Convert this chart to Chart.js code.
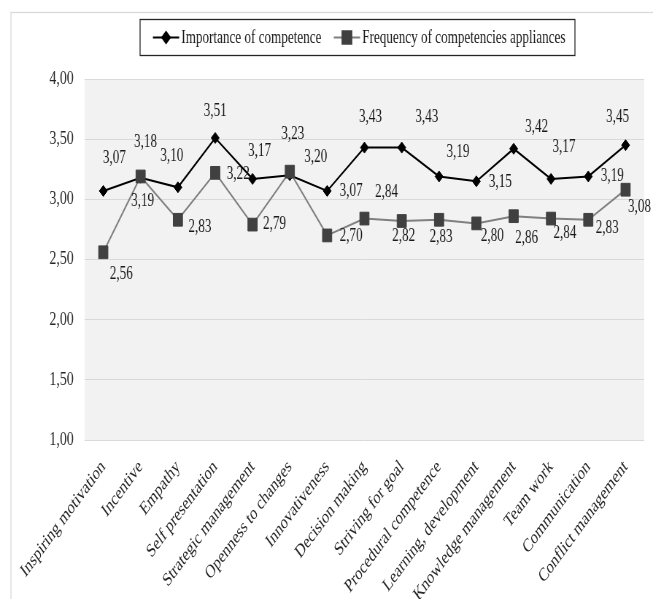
<!DOCTYPE html>
<html>
<head>
<meta charset="utf-8">
<script src="https://cdn.jsdelivr.net/npm/chart.js@4.4.1/dist/chart.umd.min.js"></script>
<style>
  html, body { margin: 0; padding: 0; background: #fff; }
  #marco { width: 653px; height: 599px; overflow: hidden; }
  /* la figura original está comprimida en horizontal */
  #grafico { display: block; transform: scaleX(0.7296); transform-origin: 0 0; }
</style>
</head>
<body>
<div id="marco"><canvas id="grafico" width="895" height="599"></canvas></div>
<script>
// Datos del gráfico
const categorias = [
  'Inspiring motivation', 'Incentive', 'Empathy', 'Self presentation',
  'Strategic management', 'Openness to changes', 'Innovativeness',
  'Decision making', 'Striving for goal', 'Procedural competence',
  'Learning, development', 'Knowledge management', 'Team work',
  'Communication', 'Conflict management'
];
const importancia = [3.07, 3.18, 3.10, 3.51, 3.17, 3.20, 3.07, 3.43, 3.43, 3.19, 3.15, 3.42, 3.17, 3.19, 3.45];
const frecuencia = [2.56, 3.19, 2.83, 3.22, 2.79, 3.23, 2.70, 2.84, 2.82, 2.83, 2.80, 2.86, 2.84, 2.83, 3.08];
const ticksY = [1, 1.5, 2, 2.5, 3, 3.5, 4];

// Escala horizontal aplicada al canvas
const S = 653 / 895;
const fuente = '"Liberation Serif", "Times New Roman", serif';

// Desplazamiento de cada etiqueta respecto a su punto (px en la imagen final)
const offImp = [[11,-33],[5,-35],[-6,-31],[0,-27],[7,-28],[26,-18],[24,0],[6,-30],[25,-30],[19,-24],[24,1],[23,-22],[13,-32],[24,0],[-8,-28]];
const offFrec = [[18,22],[2,25],[22,7],[23,1],[22,0],[3,-37],[24,1],[22,-26],[2,15],[2,17],[16,13],[13,22],[14,15],[19,8],[14,18]];
const desplazamientos = [offImp, offFrec];

const fmt = v => v.toFixed(2).replace('.', ',');

// Fondo del área de trazado y borde exterior
const fondo = {
  id: 'fondo',
  beforeDraw(chart) {
    const { ctx, chartArea: a } = chart;
    ctx.save();
    ctx.strokeStyle = '#d9d9d9';
    ctx.lineWidth = 1.3;
    ctx.strokeRect(15, 12.5, 900, 700);
    ctx.fillStyle = '#f2f2f2';
    ctx.fillRect(a.left, a.top, a.right - a.left, a.bottom - a.top);
    ctx.restore();
  }
};

// Etiquetas de valores
const etiquetas = {
  id: 'etiquetas',
  afterDatasetsDraw(chart) {
    const ctx = chart.ctx;
    ctx.save();
    ctx.font = '18px ' + fuente;
    ctx.fillStyle = '#1a1a1a';
    ctx.textAlign = 'center';
    ctx.textBaseline = 'middle';
    chart.data.datasets.forEach((ds, d) => {
      chart.getDatasetMeta(d).data.forEach((pt, i) => {
        const [dx, dy] = desplazamientos[d][i];
        ctx.fillText(fmt(ds.data[i]), pt.x + dx / S, pt.y + dy);
      });
    });
    ctx.restore();
  }
};

// Leyenda con recuadro
const leyenda = {
  id: 'leyenda',
  afterDraw(chart) {
    const ctx = chart.ctx;
    ctx.save();
    ctx.strokeStyle = '#262626';
    ctx.lineWidth = 1.3;
    ctx.strokeRect(192, 19.5, 596, 36);
    ctx.font = '18px ' + fuente;
    ctx.textBaseline = 'middle';
    ctx.textAlign = 'left';
    let x = 209.6;
    const y = 37.5;
    chart.data.datasets.forEach(ds => {
      ctx.strokeStyle = ds.borderColor;
      ctx.lineWidth = 2;
      ctx.beginPath();
      ctx.moveTo(x, y);
      ctx.lineTo(x + 36, y);
      ctx.stroke();
      ctx.fillStyle = ds.pointBackgroundColor;
      ctx.strokeStyle = ds.pointBorderColor;
      Chart.helpers.drawPoint(ctx, {
        pointStyle: ds.pointStyle, radius: ds.pointRadius, rotation: 0, borderWidth: 1
      }, x + 18, y);
      ctx.fillStyle = '#1a1a1a';
      ctx.fillText(ds.label, x + 39, y + 1);
      x += 39 + ctx.measureText(ds.label).width + 17;
    });
    ctx.restore();
  }
};

const ctx = document.getElementById('grafico').getContext('2d');
const grafico = new Chart(ctx, {
  type: 'line',
  data: {
    labels: categorias,
    datasets: [{
      label: 'Importance of competence',
      data: importancia,
      borderColor: '#000000',
      borderWidth: 2,
      pointStyle: 'rectRot',
      pointRadius: 5.5,
      pointBackgroundColor: '#000000',
      pointBorderColor: '#000000',
      pointBorderWidth: 1,
      order: 1
    }, {
      label: 'Frequency of competencies appliances',
      data: frecuencia,
      borderColor: '#808080',
      borderWidth: 2,
      pointStyle: 'rect',
      pointRadius: 9,
      pointBackgroundColor: '#404040',
      pointBorderColor: '#404040',
      pointBorderWidth: 1,
      order: 0
    }]
  },
  options: {
    responsive: false,
    animation: false,
    devicePixelRatio: 1,
    layout: { padding: { top: 79, right: 12, left: 0, bottom: 0 } },
    plugins: { legend: { display: false }, tooltip: { enabled: false } },
    scales: {
      x: {
        offset: true,
        grid: { display: false },
        border: { display: false },
        ticks: {
          autoSkip: false,
          minRotation: 45,
          maxRotation: 45,
          padding: 8,
          color: '#262626',
          font: { family: fuente, size: 19 }
        },
        afterFit: s => { s.height = 159; }
      },
      y: {
        min: 1,
        max: 4,
        grid: { color: '#d9d9d9', drawTicks: false },
        border: { display: false },
        ticks: {
          padding: 15,
          color: '#262626',
          font: { family: fuente, size: 19 },
          callback: v => fmt(v)
        },
        afterBuildTicks: s => { s.ticks = ticksY.map(v => ({ value: v })); },
        afterFit: s => { s.width = 116; }
      }
    }
  },
  plugins: [fondo, etiquetas, leyenda]
});
</script>
</body>
</html>
